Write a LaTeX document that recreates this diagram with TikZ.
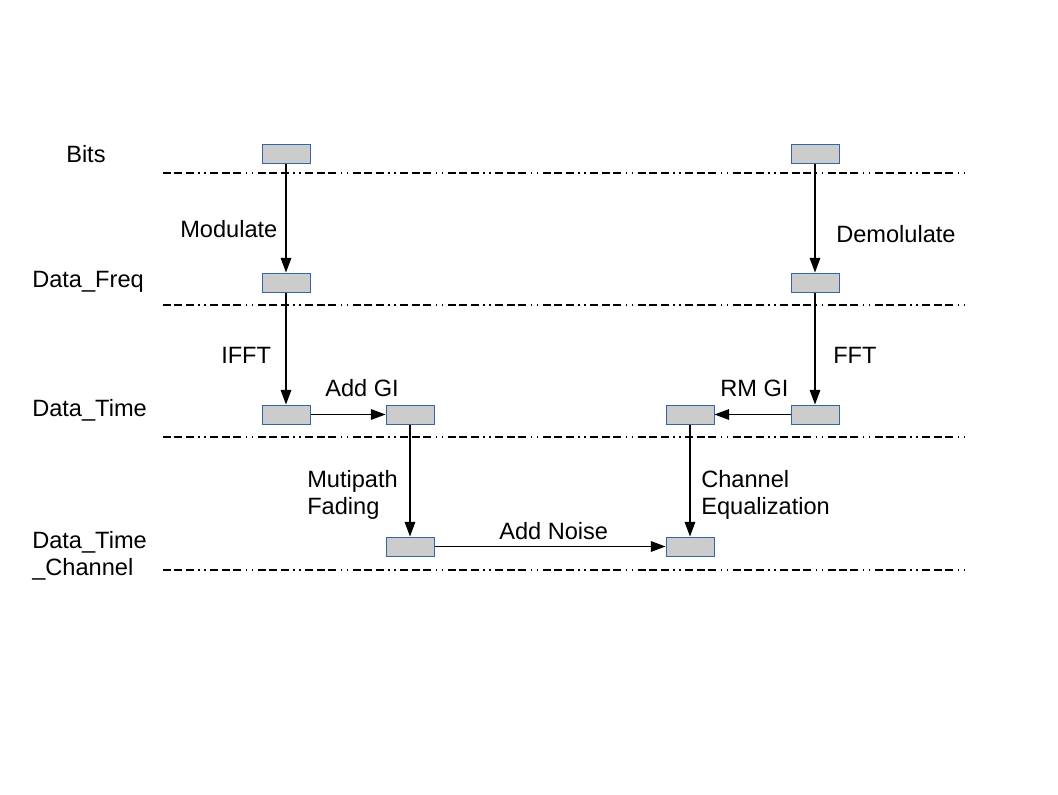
\documentclass[tikz,border=0pt]{standalone}
\usepackage{fontspec}
\setmainfont{Liberation Sans}
\usetikzlibrary{arrows.meta}
\definecolor{boxblue}{HTML}{3465A4}
\definecolor{boxgray}{HTML}{CCCCCC}
\begin{document}
\begin{tikzpicture}[x=0.75pt,y=-0.75pt,
  box/.style={draw=boxblue,fill=boxgray,line width=0.75pt,minimum width=36pt,minimum height=14.25pt,inner sep=0pt},
  lbl/.style={inner sep=0pt,anchor=base west,font=\fontsize{17.7}{20.25}\selectfont},
  mlbl/.style={inner sep=0pt,anchor=north west,align=left,font=\fontsize{17.7}{20.25}\selectfont},
  flow/.style={line width=0.8pt,-{Triangle[length=11pt,width=8pt]}},
  sep/.style={line width=0.9pt,dash pattern=on 6pt off 2.6pt on 6pt off 2.6pt on 6pt off 3.4pt on 1.1pt off 3.4pt on 1.1pt off 3.4pt}]
\useasboundingbox (0,0) rectangle (1058,794);
\fill[white] (0,0) rectangle (1058,794);

% separator lines
\draw[sep] (163,173) -- (965,173);
\draw[sep] (163,305) -- (965,305);
\draw[sep] (163,437) -- (965,437);
\draw[sep] (163,570) -- (965,570);

% row labels
\node[lbl] (lBits) at (66,162) {Bits};
\node[lbl] (lFreq) at (32,287) {Data\_Freq};
\node[lbl] (lTime) at (32,416) {Data\_Time};
\node[mlbl] (lChan) at (32,531) {Data\_Time\\\_Channel};

% boxes
\node[box] (b1) at (286,153.5) {};
\node[box] (b2) at (815,153.5) {};
\node[box] (f1) at (286,282.5) {};
\node[box] (f2) at (815,282.5) {};
\node[box] (t1) at (286,414.5) {};
\node[box] (t2) at (410,414.5) {};
\node[box] (t3) at (690,414.5) {};
\node[box] (t4) at (815,414.5) {};
\node[box] (c1) at (410,546.5) {};
\node[box] (c2) at (690,546.5) {};

% connectors
\draw[flow] (b1) -- (f1);
\draw[flow] (f1) -- (t1);
\draw[flow] (t1) -- (t2);
\draw[flow] (t2) -- (c1);
\draw[flow] (c1) -- (c2);
\draw[flow] (b2) -- (f2);
\draw[flow] (f2) -- (t4);
\draw[flow] (t4) -- (t3);
\draw[flow] (t3) -- (c2);

% step labels
\node[lbl] (mod) at (180,237) {Modulate};
\node[lbl] (demod) at (836,242) {Demolulate};
\node[lbl] (ifft) at (221,363) {IFFT};
\node[lbl] (fft) at (833,363) {FFT};
\node[lbl] (addgi) at (325,396) {Add GI};
\node[lbl] (rmgi) at (720,396) {RM GI};
\node[mlbl] (fade) at (307,470) {Mutipath\\Fading};
\node[mlbl] (equal) at (701,470) {Channel\\Equalization};
\node[lbl] (noise) at (499,539) {Add Noise};
\end{tikzpicture}
\end{document}
